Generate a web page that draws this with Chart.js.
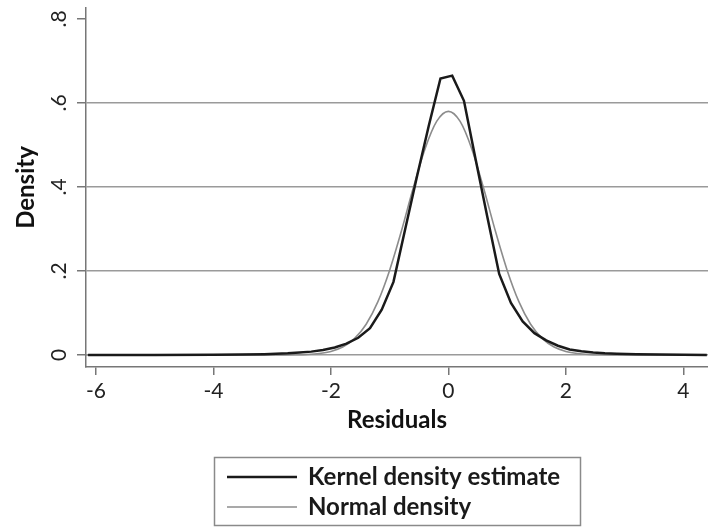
<!DOCTYPE html>
<html>
<head>
<meta charset="utf-8">
<script src="https://cdn.jsdelivr.net/npm/chart.js@4.4.0/dist/chart.umd.min.js"></script>
<style>
  body { margin: 0; background: #fff; }
  #wrap { width: 708px; height: 529px; }
</style>
</head>
<body>
<div id="wrap"><canvas id="densChart" width="708" height="529"></canvas></div>
<script>
// kernel density estimate
const kdeX = [-6.135, -5.0, -4.0, -3.535, -3.135, -2.935, -2.735, -2.535, -2.335, -2.135,
  -1.935, -1.735, -1.535, -1.335, -1.135, -0.935, -0.735, -0.535, -0.335, -0.135,
  0.065, 0.265, 0.465, 0.665, 0.865, 1.065, 1.265, 1.465, 1.665, 1.865,
  2.065, 2.265, 2.465, 2.665, 2.865, 3.2, 3.6, 4.0, 4.4];
const kdeY = [0, 0.0002, 0.0006, 0.001, 0.002, 0.003, 0.004, 0.006, 0.008, 0.012,
  0.018, 0.027, 0.041, 0.064, 0.108, 0.174, 0.300, 0.425, 0.545, 0.658,
  0.665, 0.605, 0.465, 0.327, 0.193, 0.124, 0.080, 0.052, 0.035, 0.022,
  0.013, 0.009, 0.006, 0.004, 0.003, 0.002, 0.001, 0.0005, 0.0002];

// normal density
const normX = [-6.2, -3.2, -3.0, -2.8, -2.6, -2.4, -2.2, -2.0, -1.8, -1.6, -1.4, -1.2, -1.0,
  -0.8, -0.6, -0.4, -0.2, 0, 0.2, 0.4, 0.6, 0.8, 1.0, 1.2, 1.4, 1.6, 1.8,
  2.0, 2.2, 2.4, 2.6, 2.8, 3.0, 3.2, 4.4];
const normY = [0, 0, 0.00004, 0.0001, 0.0005, 0.0013, 0.0035, 0.0085, 0.0189, 0.0388, 0.0732, 0.127, 0.202,
  0.295, 0.397, 0.490, 0.556, 0.580, 0.556, 0.490, 0.397, 0.295, 0.202, 0.127, 0.0732, 0.0388, 0.0189,
  0.0085, 0.0035, 0.0013, 0.0005, 0.0001, 0.00004, 0, 0];

const seriesNames = ['Kernel density estimate', 'Normal density'];
const xTicks = [-6, -4, -2, 0, 2, 4];
const yTicks = [0, 0.2, 0.4, 0.6, 0.8];
const yTickLabels = ['0', '.2', '.4', '.6', '.8'];

Chart.defaults.font.family = 'Lato';
Chart.defaults.color = '#222';

// legend in a box, two rows, like the original
const boxLegend = {
  id: 'boxLegend',
  afterDraw(chart) {
    const ctx = chart.ctx;
    ctx.save();
    ctx.strokeStyle = '#8a8a8a';
    ctx.lineWidth = 1.5;
    ctx.strokeRect(214.5, 457.5, 366, 68);
    chart.data.datasets.forEach((ds, i) => {
      const y = 477 + i * 30;
      ctx.strokeStyle = ds.borderColor;
      ctx.lineWidth = ds.borderWidth;
      ctx.beginPath();
      ctx.moveTo(227, y);
      ctx.lineTo(297, y);
      ctx.stroke();
      ctx.fillStyle = '#1a1a1a';
      ctx.font = 'bold 24px Lato';
      ctx.textBaseline = 'middle';
      ctx.fillText(ds.label, 308, y);
    });
    ctx.restore();
  }
};

const ctx = document.getElementById('densChart').getContext('2d');
const densChart = new Chart(ctx, {
  type: 'line',
  data: {
    datasets: [{
      label: seriesNames[0],
      data: kdeX.map((x, i) => ({ x: x, y: kdeY[i] })),
      borderColor: '#1a1a1a',
      borderWidth: 2.5,
      pointRadius: 0,
      tension: 0,
      fill: false
    }, {
      label: seriesNames[1],
      data: normX.map((x, i) => ({ x: x, y: normY[i] })),
      borderColor: '#8c8c8c',
      borderWidth: 1.6,
      pointRadius: 0,
      cubicInterpolationMode: 'monotone',
      fill: false
    }]
  },
  options: {
    responsive: false,
    animation: false,
    layout: { padding: { top: 8, right: 0, bottom: 87, left: 0 } },
    plugins: {
      legend: { display: false },
      tooltip: { enabled: false }
    },
    scales: {
      x: {
        type: 'linear',
        min: -6.17,
        max: 4.42,
        afterBuildTicks: s => { s.ticks = xTicks.map(v => ({ value: v })); },
        afterFit: s => { s.height = 75; s.paddingLeft = 0; s.paddingRight = 0; },
        grid: { drawOnChartArea: false, drawTicks: true, tickLength: 8, color: '#777', lineWidth: 1.5 },
        border: { color: '#777', width: 1.5 },
        ticks: { font: { size: 21 }, padding: 4, maxRotation: 0, callback: v => String(v) },
        title: { display: true, text: 'Residuals', font: { size: 24, weight: 'bold' }, color: '#111', padding: { top: 0, bottom: 7 } }
      },
      y: {
        min: -0.0286,
        max: 0.826,
        afterBuildTicks: s => { s.ticks = yTicks.map(v => ({ value: v })); },
        afterFit: s => { s.width = 86; s.paddingTop = 0; s.paddingBottom = 0; },
        grid: {
          color: c => (c.tick && c.tick.value === 0.8) ? 'rgba(0,0,0,0)' : '#9a9a9a',
          tickColor: '#777',
          tickLength: 9,
          lineWidth: 1.5
        },
        border: { color: '#777', width: 1.5 },
        ticks: {
          font: { size: 21 },
          minRotation: 90,
          maxRotation: 90,
          crossAlign: 'center',
          padding: 9,
          callback: (v, i) => yTickLabels[i]
        },
        title: { display: true, text: 'Density', font: { size: 24, weight: 'bold' }, color: '#111', padding: { top: 12, bottom: 0 } }
      }
    }
  },
  plugins: [boxLegend]
});
</script>
</body>
</html>
